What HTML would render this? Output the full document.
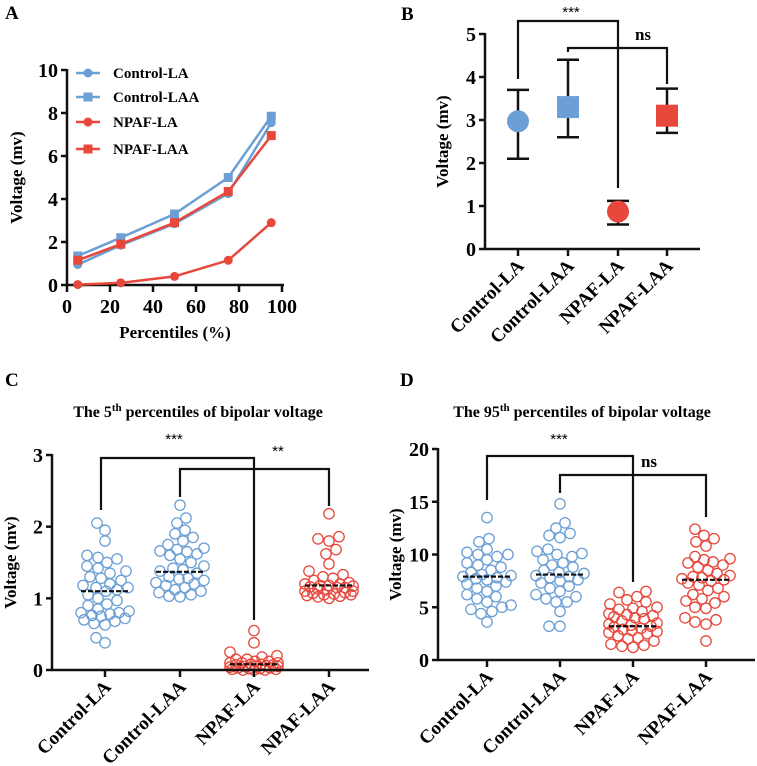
<!DOCTYPE html>
<html><head><meta charset="utf-8"><style>
html,body{margin:0;padding:0;background:#fff;}
svg{display:block;font-family:"Liberation Serif",serif;font-weight:bold;}
</style></head><body>
<svg id="fig" width="757" height="766" viewBox="0 0 757 766" xmlns="http://www.w3.org/2000/svg">
<text x="5" y="19" font-size="19">A</text>
<text x="401" y="20" font-size="19">B</text>
<text x="5" y="386" font-size="19">C</text>
<text x="400" y="386" font-size="19">D</text>
<text x="198" y="417" font-size="16" text-anchor="middle">The 5<tspan font-size="11" dy="-6">th</tspan><tspan dy="6"> percentiles of bipolar voltage</tspan></text>
<text x="582" y="417" font-size="16" text-anchor="middle">The 95<tspan font-size="11" dy="-6">th</tspan><tspan dy="6"> percentiles of bipolar voltage</tspan></text>
</svg>
<script>
const BLUE="#6b9fd5", RED="#e8473b";
// Panel A data
const pctX=[5,25,50,75,95];
const aCtrlLA=[0.95,1.85,2.85,4.25,7.55];
const aCtrlLAA=[1.35,2.2,3.3,5.0,7.85];
const aNpafLA=[0.02,0.1,0.4,1.15,2.9];
const aNpafLAA=[1.15,1.9,2.9,4.35,6.95];
const aXTicks=[0,20,40,60,80,100];
const aYTicks=[0,2,4,6,8,10];
// Panel B data
const groups=["Control-LA","Control-LAA","NPAF-LA","NPAF-LAA"];
const bMean=[2.97,3.3,0.87,3.1];
const bLow=[2.1,2.6,0.57,2.7];
const bHigh=[3.7,4.4,1.12,3.73];
const bYTicks=[0,1,2,3,4,5];
// Panel C data
const cCtrlLA=[2.05,1.95,1.8,1.6,1.57,1.55,1.5,1.45,1.42,1.38,1.35,1.3,1.28,1.25,1.2,1.18,1.15,1.15,1.12,1.1,1.05,1.0,0.97,0.92,0.9,0.85,0.82,0.8,0.8,0.78,0.76,0.75,0.72,0.7,0.68,0.65,0.63,0.45,0.38];
const cCtrlLAA=[2.3,2.12,2.05,1.95,1.9,1.85,1.8,1.75,1.7,1.68,1.66,1.65,1.62,1.6,1.55,1.5,1.45,1.42,1.4,1.38,1.35,1.3,1.28,1.27,1.25,1.22,1.2,1.18,1.15,1.12,1.1,1.08,1.05,1.03,1.02];
const cNpafLA=[0.55,0.38,0.25,0.2,0.18,0.15,0.15,0.12,0.12,0.1,0.1,0.1,0.08,0.08,0.07,0.07,0.06,0.05,0.05,0.05,0.04,0.03,0.03,0.02,0.02,0.01,0.01,0,0,0];
const cNpafLAA=[2.18,1.86,1.83,1.8,1.68,1.62,1.48,1.38,1.33,1.3,1.28,1.25,1.22,1.2,1.2,1.18,1.18,1.17,1.16,1.15,1.15,1.13,1.12,1.1,1.1,1.08,1.07,1.06,1.05,1.05,1.04,1.03,1.02,1.0];
const cMeans=[1.1,1.37,0.08,1.18];
const cYTicks=[0,1,2,3];
// Panel D data
const dCtrlLA=[13.5,11.5,11.2,10.5,10.2,10,10,9.8,9.5,9.2,9,8.8,8.5,8.3,8.1,8,7.9,7.8,7.7,7.6,7.4,7.2,7,6.8,6.5,6.2,6,5.8,5.5,5.2,5,4.8,4.6,4.4,3.6];
const dCtrlLAA=[14.8,13,12.5,12,11.8,11.6,10.5,10.3,10.1,10,9.8,9.5,9.2,9,8.8,8.5,8.3,8.2,8,7.9,7.8,7.6,7.5,7.3,7,6.8,6.5,6.2,6,5.8,5.5,5.5,4.6,3.2,3.2];
const dNpafLA=[6.5,6.4,6,5.7,5.5,5.3,5,4.9,4.8,4.6,4.4,4.3,4.2,4.1,4,3.9,3.7,3.5,3.4,3.3,3.2,3.1,3,2.9,2.8,2.7,2.6,2.5,2.3,2.1,2,1.8,1.5,1.4,1.3,1.2];
const dNpafLAA=[12.4,11.8,11.5,11.2,10.8,9.8,9.6,9.5,9.3,9.2,9,8.8,8.5,8.2,8,7.9,7.8,7.7,7.6,7.5,7.3,7.1,6.8,6.6,6.2,6,5.8,5.6,5.4,5,4.9,4,3.8,3.6,3.4,1.8];
const dMeans=[7.9,8.1,3.2,7.6];
const dYTicks=[0,5,10,15,20];

const svg=document.getElementById('fig');
const NS="http://www.w3.org/2000/svg";
function el(tag,attrs,parent){const e=document.createElementNS(NS,tag);for(const k in attrs)e.setAttribute(k,attrs[k]);(parent||svg).appendChild(e);return e;}
function lin(d0,d1,r0,r1){return v=>r0+(v-d0)*(r1-r0)/(d1-d0);}
function line(x1,y1,x2,y2,c,w,name){const e=el('line',{x1,y1,x2,y2,stroke:c||'#111','stroke-width':w||2.5});

return e;}
function text(x,y,s,fs,anchor,name,extra){const e=el('text',Object.assign({x,y,'font-size':fs,'text-anchor':anchor||'middle'},extra||{}));e.textContent=s;

return e;}

function yAxis(x0,yTop,yBot,y,ticks,title,titleX,prefix){
  line(x0,yTop-1,x0,yBot+1,'#111',2.5,prefix+'-y-axis');
  ticks.forEach(t=>{const yy=y(t);line(x0-6,yy,x0,yy,'#111',2.5,prefix+'-y-tick');
    text(x0-9,yy+7,String(t),20,'end',prefix+'-y-tick-label');});
  const ty=(yTop+yBot)/2;
  text(titleX,ty,title,17,'middle',prefix+'-y-axis-title',{transform:`rotate(-90 ${titleX} ${ty})`});
}
function catAxis(x0,x1,y0,xs,prefix){
  line(x0-1,y0,x1,y0,'#111',2.5,prefix+'-x-axis');
  xs.forEach((xx,i)=>{line(xx,y0,xx,y0+7,'#111',2.5,prefix+'-x-tick');
    const tx=xx+7,ty=y0+18;
    text(tx,ty,groups[i],19,'end',prefix+'-x-tick-label',{transform:`rotate(-45 ${tx} ${ty})`});});
}
function bracket(xa,ya,xb,yb,yt,label,lx,ly,prefix){
  const p=el('path',{d:`M${xa},${ya}V${yt}H${xb}V${yb}`,fill:'none',stroke:'#111','stroke-width':2.2});
  
  
  text(lx,ly,label,label==='ns'?17:15,'middle',prefix+'-significance-label',label==='ns'?{}:{'font-weight':'normal','font-family':'Liberation Sans, sans-serif'});
}

// ---------- Panel A ----------
(function(){
  const x=lin(0,100,67,282), y=lin(0,10,285,70);
  line(66,285,284,285,'#111',2.5,'a-x-axis');
  aXTicks.forEach(t=>{line(x(t),285,x(t),292,'#111',2.5,'a-x-tick');text(x(t),313,String(t),20,'middle','a-x-tick-label');});
  yAxis(67,70,285,y,aYTicks,'Voltage (mv)',22,'a');
  text(175,338,'Percentiles  (%)',17,'middle','a-x-axis-title');
  const series=[[aCtrlLA,BLUE,'circle','control-la'],[aCtrlLAA,BLUE,'square','control-laa'],[aNpafLA,RED,'circle','npaf-la'],[aNpafLAA,RED,'square','npaf-laa']];
  series.forEach(([vals,c,shape,nm])=>{
    const pl=el('polyline',{points:vals.map((v,i)=>x(pctX[i])+','+y(v)).join(' '),fill:'none',stroke:c,'stroke-width':2.5});
    
    
    vals.forEach((v,i)=>{let m;
      if(shape==='circle')m=el('circle',{cx:x(pctX[i]),cy:y(v),r:4.5,fill:c});
      else m=el('rect',{x:x(pctX[i])-4.5,y:y(v)-4.5,width:9,height:9,fill:c});
      
      });
  });
  const leg=[['Control-LA',BLUE,'circle',73],['Control-LAA',BLUE,'square',97],['NPAF-LA',RED,'circle',122],['NPAF-LAA',RED,'square',149]];
  leg.forEach(([lab,c,shape,yy])=>{
    line(76,yy,100,yy,c,2.5,'legend-line');
    let m;
    if(shape==='circle')m=el('circle',{cx:88,cy:yy,r:4.5,fill:c});else m=el('rect',{x:83.5,y:yy-4.5,width:9,height:9,fill:c});
    
    
    text(113,yy+5,lab,15,'start','legend-entry');
  });
})();

// ---------- Panel B ----------
(function(){
  const y=lin(0,5,249,34);
  const xs=[518,568,618,667];
  yAxis(485,34,249,y,bYTicks,'Voltage (mv)',448,'b');
  catAxis(485,700,249,xs,'b');
  const colors=[BLUE,BLUE,RED,RED],shapes=['circle','square','circle','square'];
  xs.forEach((xx,i)=>{
    line(xx,y(bLow[i]),xx,y(bHigh[i]),'#111',2.5,'b-error-bar');
    line(xx-11,y(bLow[i]),xx+11,y(bLow[i]),'#111',2.5,'b-error-cap');
    line(xx-11,y(bHigh[i]),xx+11,y(bHigh[i]),'#111',2.5,'b-error-cap');
    let m;
    if(shapes[i]==='circle')m=el('circle',{cx:xx,cy:y(bMean[i]),r:11,fill:colors[i]});
    else m=el('rect',{x:xx-11,y:y(bMean[i])-11,width:22,height:22,fill:colors[i]});
    
    
  });
  bracket(518,79,618,188,21,'***',571,17,'b');
  bracket(568,52,667,84,48,'ns',643,40,'b');
})();

// ---------- Scatter panels ----------
function swarm(vals,cx,y,c,r,prefix){
  const placed=[];const sorted=vals.slice().sort((a,b)=>a-b);
  const maxOff=24;
  sorted.forEach(v=>{const py=y(v);let best=0,bestCost=1e9;
    for(let off=-maxOff;off<=maxOff;off+=1){
      const px=cx+off;let cost=Math.abs(off)*0.02;
      placed.forEach(p=>{const d=Math.hypot(p[0]-px,p[1]-py);if(d<2*r)cost+=(2*r-d)*(2*r-d);});
      if(cost<bestCost){bestCost=cost;best=off;}
    }
    const px=cx+best;placed.push([px,py]);
    const m=el('circle',{cx:px,cy:py,r:r,fill:'none',stroke:c,'stroke-width':1.3});
    
    
  });
}
function scatterPanel(prefix,data,means,ticks,max,x0,x1,yTop,yBot,xs,titleX){
  const y=lin(0,max,yBot,yTop);
  yAxis(x0,yTop,yBot,y,ticks,'Voltage (mv)',titleX,prefix);
  const cols=[BLUE,BLUE,RED,RED];
  data.forEach((d,i)=>swarm(d,xs[i],y,cols[i],5.2,prefix));
  means.forEach((m,i)=>{const l=line(xs[i]-24,y(m),xs[i]+24,y(m),'#111',2.2,prefix+'-mean-line');l.setAttribute('stroke-dasharray','5 2');});
  catAxis(x0,x1,yBot,xs,prefix);
  return y;
}
scatterPanel('c',[cCtrlLA,cCtrlLAA,cNpafLA,cNpafLAA],cMeans,cYTicks,3,52,369,455,670,[105,180,254,329],16);
bracket(101,510,254,620,458,'***',174,444,'c');
bracket(180,497,329,506,469,'**',278,456,'c');
scatterPanel('d',[dCtrlLA,dCtrlLAA,dNpafLA,dNpafLAA],dMeans,dYTicks,20,438,755,449,660,[487,560,633,706],401);
bracket(487,500,633,582,456,'***',559,444,'d');
bracket(560,493,706,517,475,'ns',649,467,'d');
</script>
</body></html>
